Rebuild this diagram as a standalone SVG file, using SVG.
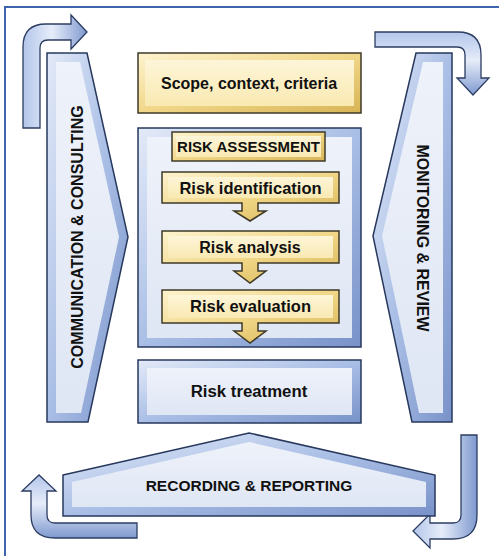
<svg xmlns="http://www.w3.org/2000/svg" width="499" height="556" viewBox="0 0 499 556">
<defs>
<linearGradient id="bOut" x1="0" y1="0" x2="1" y2="1"><stop offset="0" stop-color="#e3eaf8"/><stop offset="0.5" stop-color="#aabfe6"/><stop offset="1" stop-color="#7892c9"/></linearGradient>
<linearGradient id="bIn" x1="0" y1="0" x2="0" y2="1"><stop offset="0" stop-color="#eef2fa"/><stop offset="1" stop-color="#dfe6f4"/></linearGradient>
<linearGradient id="yOut" x1="0" y1="0" x2="1" y2="1"><stop offset="0" stop-color="#fdf3cf"/><stop offset="0.5" stop-color="#f1d788"/><stop offset="1" stop-color="#d7b455"/></linearGradient>
<linearGradient id="yIn" x1="0" y1="0" x2="0" y2="1"><stop offset="0" stop-color="#fdf5d8"/><stop offset="1" stop-color="#f9e9b2"/></linearGradient>
<linearGradient id="arH" x1="0" y1="0" x2="0" y2="1"><stop offset="0" stop-color="#b3c5ea"/><stop offset="0.45" stop-color="#e6edf9"/><stop offset="1" stop-color="#7f99cf"/></linearGradient>
<linearGradient id="arV" x1="0" y1="0" x2="1" y2="0"><stop offset="0" stop-color="#b3c5ea"/><stop offset="0.45" stop-color="#e6edf9"/><stop offset="1" stop-color="#7f99cf"/></linearGradient>
</defs>
<style>
.bo{fill:url(#bOut);stroke:#27385c;stroke-width:1.5;stroke-linejoin:miter}
.bi{fill:url(#bIn);stroke:none}
.yo{fill:url(#yOut);stroke:#3e3a28;stroke-width:1.5}
.yi{fill:url(#yIn);stroke:none}
.ah{fill:url(#arH);stroke:#2c3d62;stroke-width:1.3;stroke-linejoin:miter}
.av{fill:url(#arV);stroke:#2c3d62;stroke-width:1.3;stroke-linejoin:miter}
text{font-family:"Liberation Sans",Arial,sans-serif;font-weight:bold;fill:#111;text-anchor:middle}
.t16{font-size:16px}
.t15{font-size:15px}
</style>
<rect x="0" y="0" width="499" height="556" fill="#ffffff"/>
<path id="frame" d="M5,560 V7 H499" fill="none" stroke="#3e64ad" stroke-width="2"/>

<g id="connectors">
<path class="av" d="M23,128 L23,47 Q23,24 46,24 L71,24 L71,15 L87,32 L71,49 L71,40 L48,40 Q40,40 40,48 L40,128 Z"/>
<path class="ah" d="M375,32 L458,32 Q481,32 481,55 L481,78 L489,78 L473,95 L457,78 L465,78 L465,55 Q465,47 457,47 L375,47 Z"/>
<path class="av" d="M461,435 L477,435 L477,515 Q477,539 453,539 L430,539 L430,548 L413,531 L430,514 L430,523 L453,523 Q461,523 461,515 Z"/>
<path class="ah" d="M137,523 L55,523 Q47,523 47,515 L47,491 L56,491 L39,475 L22,491 L31,491 L31,515 Q31,538 55,538 L137,538 Z"/>
</g>

<g id="communication">
<polygon class="bo" points="47,53 87,53 128,237 88,422 47,422"/>
<polygon class="bi" points="56,62 80,62 119,237 81,413 56,413"/>
<text class="t16" transform="translate(83,237) rotate(-90)">COMMUNICATION &amp; CONSULTING</text>
</g>

<g id="monitoring">
<polygon class="bo" points="416,53 452,53 452,422 412,422 373,236"/>
<polygon class="bi" points="423,62 443,62 443,413 419,413 382,236"/>
<text class="t16" transform="translate(417,238) rotate(90)">MONITORING &amp; REVIEW</text>
</g>

<g id="recording">
<polygon class="bo" points="63,475 249,433 435,475 435,516 63,516"/>
<polygon class="bi" points="72,482 249,442 426,482 426,507 72,507"/>
<text x="249" y="491" style="font-size:15.5px">RECORDING &amp; REPORTING</text>
</g>

<g id="scope">
<rect class="yo" x="138" y="53" width="223" height="60"/>
<rect class="yi" x="145" y="60" width="209" height="46"/>
<text class="t16" x="249" y="89">Scope, context, criteria</text>
</g>

<g id="assessment">
<rect class="bo" x="138" y="128" width="223" height="219"/>
<rect class="bi" x="147" y="137" width="205" height="201"/>
</g>

<g id="assessment-title">
<rect class="yo" x="172" y="132" width="153" height="29"/>
<rect class="yi" x="176" y="136" width="145" height="21"/>
<text class="t15" x="248.5" y="152">RISK ASSESSMENT</text>
</g>

<g id="identification">
<path class="yo" d="M162,172 H339 V203 H258 V211 H266 L250,221 L234,211 H242 V203 H162 Z"/>
<rect class="yi" x="168" y="177" width="165" height="21"/>
<text x="250.5" y="194" style="font-size:16.5px">Risk identification</text>
</g>

<g id="analysis">
<path class="yo" d="M162,231 H339 V263 H258 V271 H266 L250,283 L234,271 H242 V263 H162 Z"/>
<rect class="yi" x="168" y="236" width="165" height="22"/>
<text class="t16" x="250" y="253">Risk analysis</text>
</g>

<g id="evaluation">
<path class="yo" d="M162,290 H339 V323 H258 V331 H266 L250,343 L234,331 H242 V323 H162 Z"/>
<rect class="yi" x="168" y="295" width="165" height="23"/>
<text x="250.5" y="312" style="font-size:16.5px">Risk evaluation</text>
</g>

<g id="treatment">
<rect class="bo" x="138" y="360" width="223" height="63"/>
<rect class="bi" x="147" y="368" width="205" height="47"/>
<text x="249" y="397" style="font-size:16.8px">Risk treatment</text>
</g>
</svg>
